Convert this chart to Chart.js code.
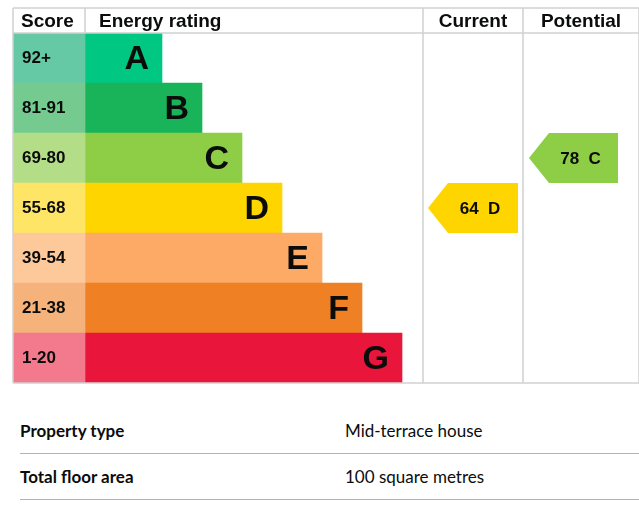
<!DOCTYPE html>
<html><head><meta charset="utf-8">
<script src="https://cdn.jsdelivr.net/npm/chart.js@4"></script>
<style>
body{margin:0;background:#fff;font-family:"Liberation Sans",Arial,sans-serif;}
#wrap{position:absolute;left:0;top:0;width:639px;height:400px;}
.row{position:absolute;left:20px;right:0;height:46px;border-bottom:1px solid #b1b4b6;font-family:Lato,"Liberation Sans",sans-serif;font-size:17px;color:#0b0c0c;}
.row b{position:absolute;left:0;top:13px;}
.row span{position:absolute;left:325px;top:13px;}
</style></head><body>
<div id="wrap"><canvas id="c" width="639" height="400"></canvas></div>
<div class="row" style="top:407px"><b>Property type</b><span>Mid-terrace house</span></div>
<div class="row" style="top:453px"><b>Total floor area</b><span>100 square metres</span></div>
<script>
const bands=['A','B','C','D','E','F','G'];
const scoreLabels=['92+','81-91','69-80','55-68','39-54','21-38','1-20'];
const bandMin=[92,81,69,55,39,21,1];
const barEnds=[149,189,229,269,309,349,389];
const bandColors=['#00c781','#19b459','#8dce46','#ffd500','#fcaa65','#ef8023','#e9153b'];
const scoreColors=['#66c9a5','#75cb8f','#b4dd88','#ffe565','#fdc99a','#f5b27a','#f27a8c'];
const currentScore=64, potentialScore=78;
const bandOf=s=>bandMin.findIndex(m=>s>=m);

const tablePlugin={id:'epc',afterDatasetsDraw(ch){
  const c=ch.ctx,x=ch.scales.x,y=ch.scales.y,a=ch.chartArea;
  c.save();
  bands.forEach((b,i)=>{
    const cy=y.getPixelForValue(i);
    c.fillStyle='#0b0c0c';c.textBaseline='middle';
    c.font='bold 17px "Liberation Sans",Arial';c.textAlign='left';
    c.fillText(scoreLabels[i],x.getPixelForValue(0)+9,cy);
    c.font='bold 34px "Liberation Sans",Arial';c.textAlign='right';
    c.fillText(b,x.getPixelForValue(barEnds[i])-13,cy+2);
  });
  c.strokeStyle='#cfd1d2';c.lineWidth=1.5;
  const top=a.top-25;
  const vx=[0,72,410,510,626].map(v=>x.getPixelForValue(v));
  vx.forEach(v=>{c.beginPath();c.moveTo(v,top);c.lineTo(v,v==vx[1]?a.top:a.bottom);c.stroke();});
  [top,a.top,a.bottom].forEach(h=>{c.beginPath();c.moveTo(vx[0],h);c.lineTo(vx[4],h);c.stroke();});
  c.fillStyle='#0b0c0c';c.font='bold 19px "Liberation Sans",Arial';c.textBaseline='middle';
  c.textAlign='left';c.fillText('Score',vx[0]+8,top+14);c.fillText('Energy rating',vx[1]+14,top+14);
  c.textAlign='center';c.fillText('Current',(vx[2]+vx[3])/2,top+14);c.fillText('Potential',(vx[3]+vx[4])/2,top+14);
  function arrow(score,x0,x1){
    const i=bandOf(score),t=y.getPixelForValue(i-0.5),bt=y.getPixelForValue(i+0.5),m=(t+bt)/2;
    const l=x.getPixelForValue(x0),r=x.getPixelForValue(x1);
    c.fillStyle=bandColors[i];c.beginPath();c.moveTo(l,m);c.lineTo(l+20,t);c.lineTo(r,t);c.lineTo(r,bt);c.lineTo(l+20,bt);c.closePath();c.fill();
    c.fillStyle='#0b0c0c';c.font='bold 17px "Liberation Sans",Arial';c.textAlign='center';
    c.fillText(score+'  '+bands[i],(l+20+r)/2-3,m+1);
  }
  arrow(currentScore,415,505);
  arrow(potentialScore,516,605);
  c.restore();
}};

new Chart(document.getElementById('c'),{
  type:'bar',
  data:{labels:bands,datasets:[
    {data:bands.map(()=>[0,72]),backgroundColor:scoreColors,grouped:false},
    {data:barEnds.map(e=>[72,e]),backgroundColor:bandColors,grouped:false}
  ]},
  options:{indexAxis:'y',responsive:false,animation:false,
    layout:{padding:{left:13,top:33,right:0,bottom:17}},
    plugins:{legend:{display:false},tooltip:{enabled:false}},
    datasets:{bar:{categoryPercentage:1,barPercentage:1,borderWidth:0}},
    scales:{x:{display:false,min:0,max:626},y:{display:false,offset:true}}},
  plugins:[tablePlugin]
});
</script></body></html>
